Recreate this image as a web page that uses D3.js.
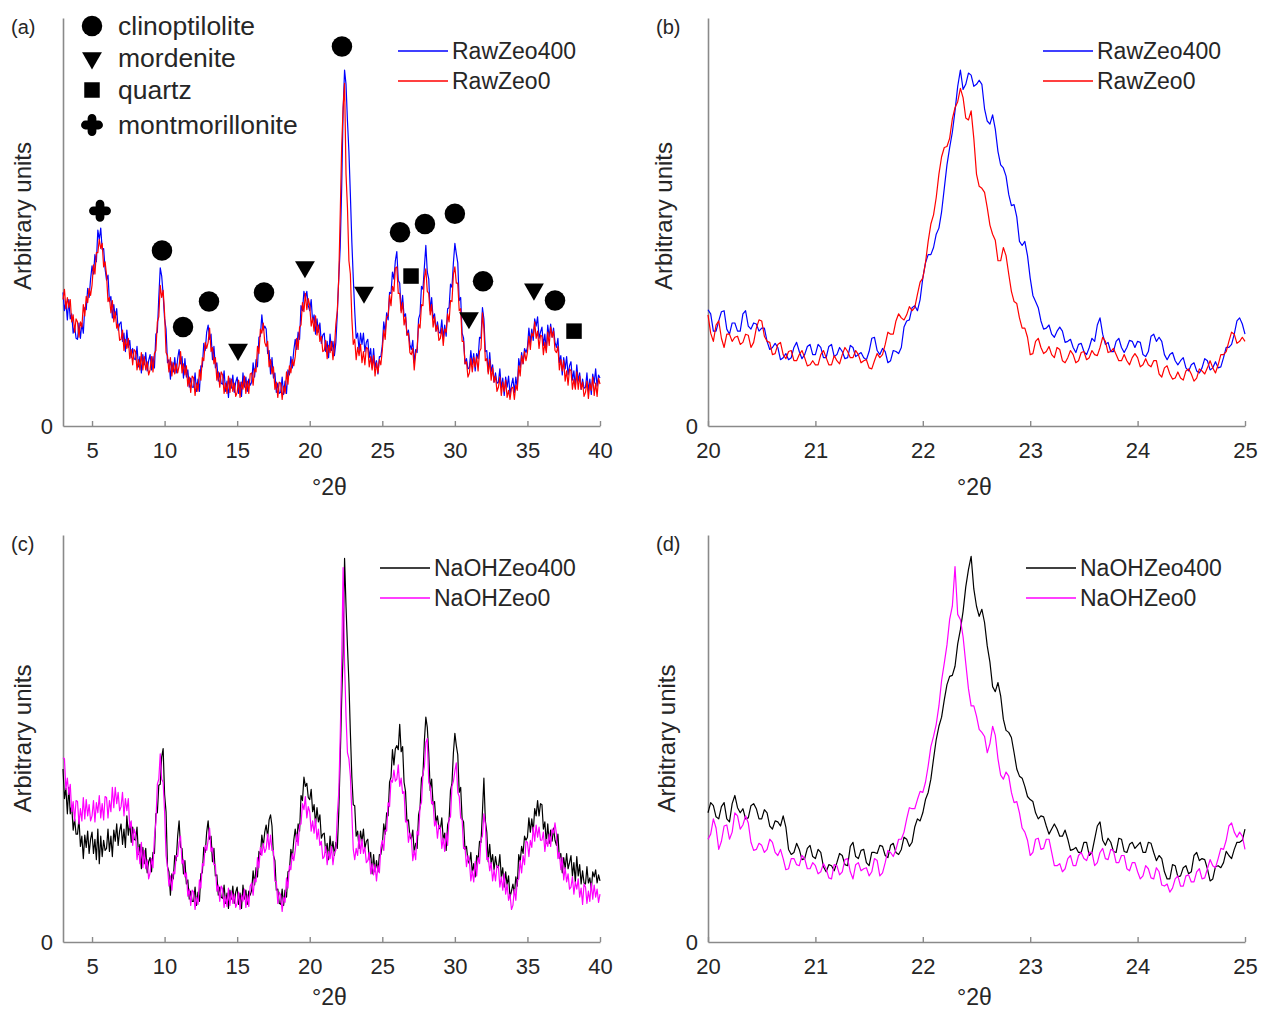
<!DOCTYPE html>
<html>
<head>
<meta charset="utf-8">
<script src="https://cdn.jsdelivr.net/npm/d3@7"></script>
<style>
  body { margin: 0; background: #fff; }
  text { font-family: "Liberation Sans", Arial, sans-serif; fill: #262626; }
</style>
</head>
<body>
<svg id="chart" width="1261" height="1012"></svg>
<script>
// ---------------- DATA ----------------
// Full scans: 3.0 .. 40.0 °2θ, one reading every 0.1°
const wideStart = 3.0, wideStep = 0.1;
// Zoomed scans: 20.0 .. 25.0 °2θ, one reading every 0.025°
const zoomStart = 20.0, zoomStep = 0.025;

const rawZeo400Wide = [
131,113,122,104,124,105,110,91,98,86,
85,101,86,101,91,116,114,135,126,144,
157,149,168,161,192,183,194,173,174,154,
143,148,122,127,106,119,106,115,94,100,
102,83,91,73,94,77,84,67,76,66,
65,78,58,68,52,70,60,72,54,64,
70,55,68,57,90,92,126,155,147,129,
105,95,62,65,46,63,53,67,52,66,
75,61,68,47,66,48,55,38,47,38,
38,52,34,46,34,59,58,81,74,92,
99,85,90,65,78,57,62,44,52,42,
41,54,34,44,28,47,37,50,33,43,
48,32,43,29,52,38,48,34,46,40,
43,62,48,65,58,87,88,109,94,98,
95,71,74,51,67,47,52,33,42,32,
33,48,31,44,32,55,50,68,57,74,
85,75,92,85,118,113,132,125,132,118,
113,124,102,109,90,105,92,101,81,89,
91,73,83,67,90,74,83,69,82,110,
145,175,233,309,349,335,299,269,227,181,
145,113,86,91,74,91,80,91,73,82,
85,67,76,57,76,57,64,51,68,68,
79,102,92,111,104,131,130,151,144,162,
171,143,140,113,128,107,110,89,94,80,
75,84,62,75,72,105,110,137,134,156,
177,151,144,113,126,105,110,93,102,92,
91,104,86,99,88,115,116,139,136,160,
179,169,160,123,126,91,86,61,66,56,
57,74,60,71,54,71,66,87,86,116,
105,73,74,53,72,53,60,43,52,42,
43,56,37,47,30,48,38,49,31,40,
47,33,48,37,66,57,72,61,76,72,
77,96,82,95,84,105,98,107,86,92,
97,79,90,74,99,87,100,87,96,82,
77,86,62,69,50,67,56,68,50,59,
63,45,54,38,60,44,52,36,46,37,
38,52,34,46,31,51,42,56,39,50,
47];

const rawZeo0Wide = [
124,134,115,126,116,124,102,109,92,105,
102,87,102,97,119,108,127,121,135,128,
138,158,149,170,170,183,174,179,156,161,
148,122,126,111,123,102,112,96,100,84,
85,94,74,85,76,86,66,75,60,75,
73,55,65,55,72,55,68,55,63,50,
55,68,53,71,74,102,107,138,126,133,
110,72,69,53,67,49,62,51,61,52,
59,73,52,61,50,59,39,48,33,49,
47,30,42,34,55,45,67,64,82,76,
82,96,73,77,61,67,45,53,38,53,
50,32,42,32,49,33,46,34,42,29,
33,45,28,43,36,49,32,44,32,51,
52,40,56,53,78,71,95,91,101,82,
78,83,58,65,51,58,36,43,28,43,
42,26,39,32,53,41,59,52,65,59,
68,86,75,97,99,121,112,130,114,125,
118,98,106,93,108,89,99,83,88,73,
74,84,66,79,72,83,65,77,100,113,
145,207,273,312,336,247,214,162,149,106,
80,85,65,77,69,80,62,73,60,77,
76,58,68,55,69,49,62,52,65,60,
74,94,85,107,108,128,118,137,132,155,
156,130,130,111,121,99,107,89,91,72,
70,76,55,71,76,100,96,119,118,145,
154,132,130,109,119,97,107,93,99,84,
86,96,79,95,92,110,102,123,122,149,
156,140,140,113,115,83,83,61,63,48,
52,66,53,67,58,68,54,73,76,111,
96,64,66,51,65,45,57,43,49,34,
38,48,30,43,34,45,28,35,26,37,
38,26,40,35,59,49,69,61,73,64,
72,88,75,91,88,102,86,93,76,89,
88,70,82,72,92,79,97,87,93,74,
72,78,55,65,54,64,44,54,40,56,
54,36,46,36,53,36,49,36,43,29,
33,44,27,42,35,48,30,42,29,47,
41];

const naohZeo400Wide = [
170,141,151,126,152,126,134,110,121,106,
106,121,94,104,82,105,93,109,87,101,
108,87,101,81,111,77,104,84,100,90,
92,111,89,104,84,110,99,116,95,109,
116,96,111,93,124,105,118,98,113,101,
100,113,86,96,72,93,77,92,68,79,
83,69,88,87,126,127,154,155,182,190,
145,128,74,69,46,67,62,85,80,104,
119,93,92,67,80,57,61,42,50,40,
40,54,36,49,40,67,68,93,88,108,
119,101,104,79,92,65,66,46,54,44,
43,56,38,48,33,51,42,55,38,49,
54,37,48,33,56,42,51,37,50,46,
51,70,56,73,64,89,86,105,94,108,
115,103,120,125,114,85,80,51,52,38,
37,52,36,51,44,69,70,91,82,100,
111,99,116,109,144,139,162,153,156,142,
140,150,128,135,116,132,118,125,102,106,
107,88,97,81,104,89,99,85,98,92,
127,180,238,285,377,330,291,255,206,163,
135,134,104,109,92,109,99,111,92,99,
101,81,88,67,86,69,80,69,86,86,
95,116,106,127,124,157,162,189,174,190,
193,189,214,187,192,157,148,119,120,104,
101,110,88,97,92,125,132,161,164,198,
221,211,186,149,160,135,138,117,124,112,
111,122,100,107,90,115,120,149,156,186,
205,193,184,147,152,121,118,91,94,80,
77,88,68,77,64,85,80,99,98,128,
161,119,108,79,96,77,86,71,84,74,
73,86,64,73,54,69,56,65,44,50,
57,47,64,55,86,79,94,87,104,100,
103,122,108,121,108,131,124,139,124,136,
135,111,118,97,116,97,110,99,112,100,
95,106,82,87,68,83,72,87,72,78,
85,65,78,59,84,65,76,57,70,58,
57,74,58,63,52,69,64,71,58,66,
60];

const naohZeo0Wide = [
181,180,150,161,145,155,128,138,119,139,
138,116,131,119,142,121,140,124,135,119,
124,139,118,137,127,144,122,136,120,143,
142,122,139,128,152,132,152,136,147,129,
133,147,124,141,129,141,112,119,95,111,
106,81,93,77,98,73,90,72,81,62,
68,82,73,103,118,155,160,185,160,157,
128,85,74,55,65,51,69,67,85,84,
98,104,77,81,64,68,45,52,36,51,
49,32,44,37,61,53,77,75,95,90,
100,112,89,93,76,76,50,56,40,55,
52,34,45,35,53,36,50,38,47,34,
38,49,32,46,40,52,34,46,35,55,
58,46,62,59,83,73,93,85,97,88,
92,106,91,105,90,90,60,59,38,49,
46,30,44,39,63,53,75,71,87,80,
90,106,95,115,116,136,130,143,122,133,
128,109,119,107,121,101,111,95,99,82,
84,94,76,89,82,94,76,88,90,125,
147,202,274,368,274,222,186,180,163,127,
91,81,92,85,105,87,101,87,93,78,
80,88,67,77,66,76,60,75,68,93,
100,90,110,109,137,133,159,157,169,158,
160,174,153,161,146,148,118,119,98,107,
102,80,90,81,109,105,133,137,165,172,
196,200,157,153,136,138,114,119,102,115,
112,92,102,89,107,95,121,123,153,158,
168,176,147,143,122,120,92,93,74,85,
80,60,70,59,79,65,83,77,101,104,
126,116,81,83,70,78,60,71,60,75,
74,54,64,51,67,47,57,41,47,32,
36,52,41,61,62,80,68,85,76,99,
98,84,100,93,113,99,115,103,113,100,
100,108,89,101,94,106,94,111,107,117,
106,82,88,71,83,61,73,59,67,52,
54,64,47,59,52,62,44,53,37,57,
54,38,50,40,58,42,56,44,52,39,
47];

const rawZeo400Zoom = [
114,110,93,93,103,112,113,95,90,101,101,93,93,110,113,98,95,101,100,93,
96,96,83,75,77,81,77,65,67,71,65,67,77,82,73,66,70,78,80,70,
70,80,77,67,67,78,80,68,70,77,73,66,67,79,77,68,70,72,67,65,
73,86,87,74,70,76,73,62,64,74,73,71,77,97,103,104,116,118,113,124,
145,160,168,168,175,188,194,210,233,256,273,288,309,333,349,330,335,346,344,333,
335,339,335,311,299,296,305,291,269,256,253,245,227,216,217,205,181,177,181,167,
145,128,122,116,103,95,96,99,90,87,93,97,93,82,83,85,77,72,80,81,
73,70,77,86,83,99,106,90,80,82,73,73,83,86,77,72,77,84,83,77,
83,82,70,68,73,88,90,83,87,83,70,65,70,72,64,60,64,67,57,54,
60,62,54,52,57,66,64,55,57,63,57,58,67,77,77,80,90,103,106,100,
90];

const rawZeo0Zoom = [
109,91,83,99,103,86,77,90,90,83,87,88,80,82,90,89,77,82,96,104,
103,88,83,82,70,71,80,82,70,66,73,74,64,64,70,74,67,59,60,64,
60,60,70,74,67,60,60,69,64,61,70,77,73,67,67,74,70,62,64,65,
57,56,64,71,67,70,80,92,90,90,103,110,106,104,109,117,113,116,129,141,
145,160,181,198,207,224,247,264,273,274,282,301,312,318,331,322,302,300,309,282,
247,235,233,229,214,197,188,182,162,162,175,167,149,132,122,120,106,96,96,87,
70,71,83,86,77,71,73,78,70,67,77,75,64,62,67,74,70,62,64,72,
73,65,67,74,70,69,77,87,83,72,73,76,70,64,64,70,64,60,67,71,
67,58,60,66,60,58,64,64,51,48,57,59,51,46,47,53,47,45,54,56,
51,44,47,56,54,51,57,64,57,52,60,70,70,73,83,92,90,81,83,87,
83];

const naohZeo400Zoom = [
127,137,134,123,121,133,137,121,118,136,144,132,127,131,121,122,134,136,131,121,
121,130,127,114,111,119,118,114,124,113,91,86,88,97,91,81,82,92,95,84,
82,91,88,74,69,76,75,70,78,87,85,76,75,94,98,84,82,90,91,78,
75,88,88,87,95,94,85,83,95,97,88,86,91,103,101,94,98,113,121,119,
127,140,147,160,180,199,212,221,238,253,261,262,271,293,307,325,349,366,379,347,
330,320,327,314,291,275,251,246,255,242,219,208,206,201,186,170,163,161,153,143,
140,138,127,121,124,123,114,106,111,116,111,104,104,110,101,90,91,93,88,88,
98,98,85,88,101,114,118,100,95,102,98,89,88,102,101,89,88,96,98,92,
95,98,88,88,98,97,88,80,85,82,69,62,62,76,75,64,65,73,75,67,
69,85,88,80,82,81,72,60,62,74,75,73,78,89,85,82,91,98,98,100,
111];

const naohZeo0Zoom = [
101,106,121,112,91,99,114,115,101,108,127,124,111,115,124,117,98,90,91,97,
95,88,91,101,98,88,85,91,82,71,72,82,82,76,75,85,82,72,72,78,
75,67,69,77,72,63,62,76,75,66,69,81,82,69,62,76,78,70,72,73,
65,69,82,80,65,68,78,90,88,84,91,101,101,108,121,132,131,131,140,148,
147,157,173,192,202,214,232,257,274,292,317,330,369,322,317,300,274,249,232,232,
222,209,206,202,186,195,212,203,180,164,160,167,163,147,137,138,127,112,108,100,
85,88,101,102,91,92,101,101,88,75,75,77,69,72,82,85,75,75,85,88,
82,80,88,88,75,78,88,92,82,81,91,90,78,78,85,85,72,70,78,78,
69,62,65,75,72,63,62,73,69,56,55,57,49,53,62,65,55,55,65,66,
59,59,69,72,62,63,72,81,75,73,82,92,91,100,114,117,108,103,108,104,
91];

// tick labels
const wideTicks = [5, 10, 15, 20, 25, 30, 35, 40];
const zoomTicks = [20, 21, 22, 23, 24, 25];
const yTicks = [0];

// phase identification markers (°2θ, height in arbitrary units)
const phaseNames = ["clinoptilolite", "mordenite", "quartz", "montmorillonite"];
const clinoptilolitePeaks = [[9.82,172],[11.27,97],[13.06,122],[16.85,131],[22.22,372],[26.22,190],[27.94,198],[30.0,208],[31.94,142],[36.9,123]];
const mordenitePeaks = [[15.06,75],[19.67,156],[23.74,131],[30.97,106],[35.45,134]];
const quartzPeaks = [[26.98,147],[38.21,93]];
const montmorillonitePeaks = [[5.55,211]];

// ---------------- DRAWING ----------------
const svg = d3.select("#chart");
const axisColor = "#8a8a8a";
const fontFam = '"Liberation Sans", Arial, sans-serif';

// rounded plus symbol for montmorillonite
const symbolRoundPlus = {
  draw(ctx, size) {
    const r = Math.sqrt(size) / 2;
    const w = r * 0.4;
    ctx.moveTo(-w, -r + w);
    ctx.arc(0, -r + w, w, Math.PI, 0);
    ctx.lineTo(w, -w);
    ctx.lineTo(r - w, -w);
    ctx.arc(r - w, 0, w, -Math.PI / 2, Math.PI / 2);
    ctx.lineTo(w, w);
    ctx.lineTo(w, r - w);
    ctx.arc(0, r - w, w, 0, Math.PI);
    ctx.lineTo(-w, w);
    ctx.lineTo(-r + w, w);
    ctx.arc(-r + w, 0, w, Math.PI / 2, 3 * Math.PI / 2);
    ctx.lineTo(-w, -w);
    ctx.closePath();
  }
};
const symbolDefs = {
  clinoptilolite: { type: d3.symbolCircle, size: 330, rot: 0 },
  mordenite: { type: d3.symbolTriangle, size: 170, rot: 180 },
  quartz: { type: d3.symbolSquare, size: 240, rot: 0 },
  montmorillonite: { type: symbolRoundPlus, size: 480, rot: 0 }
};

function drawPanel(opt) {
  const g = svg.append("g");
  const x = d3.scaleLinear().domain(opt.xDomain).range([opt.left, opt.right]);
  const y = d3.scaleLinear().domain([0, 400]).range([opt.bottom, opt.top]);

  // axes
  const xAxis = d3.axisBottom(x).tickValues(opt.ticks).tickFormat(d3.format("d"))
    .tickSizeInner(-5).tickSizeOuter(0).tickPadding(16);
  const gx = g.append("g").attr("transform", `translate(0,${opt.bottom})`).call(xAxis);
  const yAxis = d3.axisLeft(y).tickValues(yTicks).tickFormat(d3.format("d")).tickSize(0).tickPadding(10);
  const gy = g.append("g").attr("transform", `translate(${opt.left},0)`).call(yAxis);
  [gx, gy].forEach(a => {
    a.select(".domain").attr("stroke", axisColor).attr("stroke-width", 1.6);
    a.selectAll(".tick line").attr("stroke", axisColor).attr("stroke-width", 1.4);
    a.selectAll(".tick text").attr("font-size", 22).attr("fill", "#262626")
      .style("font-family", fontFam);
  });

  // series
  const line = d3.line().x(d => x(d[0])).y(d => y(d[1]));
  opt.series.forEach(s => {
    const pts = s.values.map((v, i) => [opt.start + i * opt.step, v]);
    g.append("path").datum(pts)
      .attr("fill", "none").attr("stroke", s.color).attr("stroke-width", 1.2)
      .attr("stroke-linejoin", "round").attr("d", line);
  });

  // markers
  if (opt.markers) {
    opt.markers.forEach(m => {
      const def = symbolDefs[m.name];
      g.selectAll(null).data(m.points).enter().append("path")
        .attr("d", d3.symbol().type(def.type).size(def.size)())
        .attr("transform", d => `translate(${x(d[0])},${y(d[1])}) rotate(${def.rot})`)
        .attr("fill", "#000");
    });
  }

  // legend for lines
  opt.series.forEach((s, i) => {
    const ly = opt.legendY + i * 30;
    g.append("line").attr("x1", opt.legendX).attr("x2", opt.legendX + 50)
      .attr("y1", ly).attr("y2", ly).attr("stroke", s.color).attr("stroke-width", 1.4);
    g.append("text").attr("x", opt.legendX + 54).attr("y", ly).attr("dy", "0.36em")
      .attr("font-size", 23).text(s.name);
  });

  // panel letter
  g.append("text").attr("x", opt.left - 52).attr("y", opt.top + 16)
    .attr("font-size", 20).text(opt.letter);

  // y label
  g.append("text").attr("transform", `translate(${opt.left - opt.yLabelDx},${(opt.top + opt.bottom) / 2 + opt.yLabelDy}) rotate(-90)`)
    .attr("text-anchor", "middle").attr("font-size", 24).text("Arbitrary units");

  // x label
  g.append("text").attr("x", (opt.left + opt.right) / 2 - 2).attr("y", opt.bottom + opt.xLabelDy)
    .attr("text-anchor", "middle").attr("font-size", 23).text("°2θ");
  return { x, y };
}

drawPanel({
  letter: "(a)", left: 63, right: 600, top: 18, bottom: 426,
  xDomain: [3, 40], ticks: wideTicks, start: wideStart, step: wideStep,
  series: [
    { name: "RawZeo400", color: "#0000ff", values: rawZeo400Wide },
    { name: "RawZeo0", color: "#ff0000", values: rawZeo0Wide }
  ],
  legendX: 398, legendY: 51, yLabelDx: 32, yLabelDy: -6, xLabelDy: 69,
  markers: [
    { name: "clinoptilolite", points: clinoptilolitePeaks },
    { name: "mordenite", points: mordenitePeaks },
    { name: "quartz", points: quartzPeaks },
    { name: "montmorillonite", points: montmorillonitePeaks }
  ]
});

drawPanel({
  letter: "(b)", left: 708, right: 1245, top: 18, bottom: 426,
  xDomain: [20, 25], ticks: zoomTicks, start: zoomStart, step: zoomStep,
  series: [
    { name: "RawZeo400", color: "#0000ff", values: rawZeo400Zoom },
    { name: "RawZeo0", color: "#ff0000", values: rawZeo0Zoom }
  ],
  legendX: 1043, legendY: 51, yLabelDx: 36, yLabelDy: -6, xLabelDy: 69
});

drawPanel({
  letter: "(c)", left: 63, right: 600, top: 535, bottom: 942,
  xDomain: [3, 40], ticks: wideTicks, start: wideStart, step: wideStep,
  series: [
    { name: "NaOHZeo400", color: "#000000", values: naohZeo400Wide },
    { name: "NaOHZeo0", color: "#ff00ff", values: naohZeo0Wide }
  ],
  legendX: 380, legendY: 568, yLabelDx: 32, yLabelDy: 0, xLabelDy: 63
});

drawPanel({
  letter: "(d)", left: 708, right: 1245, top: 535, bottom: 942,
  xDomain: [20, 25], ticks: zoomTicks, start: zoomStart, step: zoomStep,
  series: [
    { name: "NaOHZeo400", color: "#000000", values: naohZeo400Zoom },
    { name: "NaOHZeo0", color: "#ff00ff", values: naohZeo0Zoom }
  ],
  legendX: 1026, legendY: 568, yLabelDx: 33, yLabelDy: 0, xLabelDy: 63
});

// phase symbol legend (panel a)
const symLegend = svg.append("g");
phaseNames.forEach((name, i) => {
  const def = symbolDefs[name];
  const cy = [26, 58, 90, 125][i];
  symLegend.append("path")
    .attr("d", d3.symbol().type(def.type).size(def.size)())
    .attr("transform", `translate(92,${cy}) rotate(${def.rot})`)
    .attr("fill", "#000");
  symLegend.append("text").attr("x", 118).attr("y", cy - 1).attr("dy", "0.36em")
    .attr("font-size", 26.5).text(name);
});
</script>
</body>
</html>
